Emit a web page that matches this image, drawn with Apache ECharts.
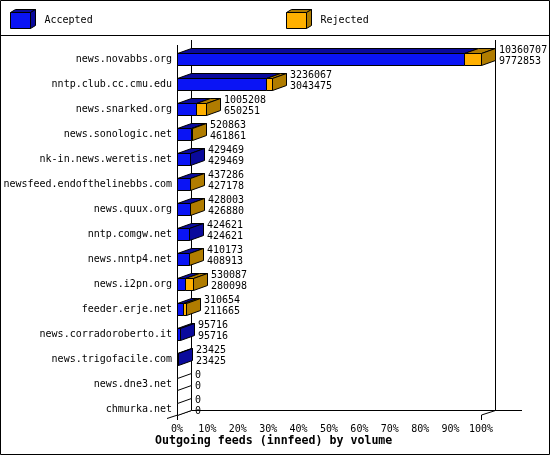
<!DOCTYPE html>
<html>
<head>
  <meta charset="utf-8">
</head>
<body style="margin: 0; background: #fff">
  <div id="container" style="width: 550px; height: 455px"></div>
  <script type="text/javascript" src="https://fastly.jsdelivr.net/npm/echarts@6.0.0/dist/echarts.min.js"></script>
  <script type="text/javascript">
    // feeds, top to bottom
    var categories = ['news.novabbs.org', 'nntp.club.cc.cmu.edu', 'news.snarked.org', 'news.sonologic.net',
      'nk-in.news.weretis.net', 'newsfeed.endofthelinebbs.com', 'news.quux.org', 'nntp.comgw.net',
      'news.nntp4.net', 'news.i2pn.org', 'feeder.erje.net', 'news.corradoroberto.it',
      'news.trigofacile.com', 'news.dne3.net', 'chmurka.net'];
    // offered volume (upper number) and accepted volume (lower number)
    var offered = [10360707, 3236067, 1005208, 520863, 429469, 437286, 428003, 424621,
      410173, 530087, 310654, 95716, 23425, 0, 0];
    var accepted = [9772853, 3043475, 650251, 461861, 429469, 427178, 426880, 424621,
      408913, 280098, 211665, 95716, 23425, 0, 0];
    var seriesNames = ['Accepted', 'Rejected'];

    var FONT = '10px "DejaVu Sans Mono"';
    var BLUE = '#0a14f5', BLUE_DK = '#0a0a9c';
    var ORANGE = '#ffb000', ORANGE_DK = '#b07c00';
    var DX = 14, DY = 5; // 3d depth

    var maxTotal = Math.max.apply(null, offered);
    var rows = offered.map(function (v, i) { return [i, v, accepted[i]]; });

    // grid geometry (front plane)
    var GL = 177, GW = 304, GT = 46.5, GH = 375;

    function poly(points, fill) {
      return { type: 'polygon', shape: { points: points }, style: { fill: fill, stroke: '#000', lineWidth: 1 } };
    }

    function renderItem(params, api) {
      var idx = api.value(0), total = api.value(1), acc = api.value(2);
      var c0 = api.coord([0, idx]);
      var x0 = Math.round(c0[0]) + 0.5;
      var yc = Math.round(c0[1]);
      var xa = Math.round(api.coord([acc / maxTotal * 100, idx])[0]) + 0.5;
      var xt = Math.round(api.coord([total / maxTotal * 100, idx])[0]) + 0.5;
      var top = yc - 5.5, bot = yc + 6.5;
      var kids = [];
      if (xa > x0) {
        kids.push(poly([[x0, top], [xa, top], [xa, bot], [x0, bot]], BLUE));
        kids.push(poly([[x0, top], [x0 + DX, top - DY], [xa + DX, top - DY], [xa, top]], BLUE_DK));
      }
      if (xt > xa) {
        kids.push(poly([[xa, top], [xt, top], [xt, bot], [xa, bot]], ORANGE));
        kids.push(poly([[xa, top], [xa + DX, top - DY], [xt + DX, top - DY], [xt, top]], ORANGE_DK));
      }
      var side = total === 0 ? '#fff' : (total > acc ? ORANGE_DK : BLUE_DK);
      kids.push(poly([[xt, top], [xt + DX, top - DY], [xt + DX, bot - DY], [xt, bot]], side));
      kids.push({
        type: 'text',
        style: {
          text: total + '\n' + acc, x: xt + DX + 3.5, y: yc - 3.5,
          verticalAlign: 'middle', align: 'left', font: FONT, lineHeight: 11, fill: '#000'
        }
      });
      return { type: 'group', children: kids };
    }

    function line(x1, y1, x2, y2) {
      return { type: 'line', shape: { x1: x1, y1: y1, x2: x2, y2: y2 }, style: { stroke: '#000', lineWidth: 1 }, silent: true };
    }

    function legendBox(x, y, front, dark, label) {
      return [
        { type: 'polygon', shape: { points: [[x, y], [x + 5, y - 3], [x + 25, y - 3], [x + 20, y]] }, style: { fill: dark, stroke: '#000' } },
        { type: 'polygon', shape: { points: [[x + 20, y], [x + 25, y - 3], [x + 25, y + 13], [x + 20, y + 16]] }, style: { fill: dark, stroke: '#000' } },
        { type: 'rect', shape: { x: x, y: y, width: 20, height: 16 }, style: { fill: front, stroke: '#000' } },
        { type: 'text', style: { text: label, x: x + 34, y: y + 7.5, verticalAlign: 'middle', font: FONT, fill: '#000' } }
      ];
    }

    var BX = GL + 0.5, BB = 410.5;
    var graphics = [
      { type: 'rect', shape: { x: 0.5, y: 0.5, width: 549, height: 454 }, style: { fill: 'none', stroke: '#000' }, silent: true },
      line(0, 35.5, 550, 35.5),
      // back walls and floor
      line(BX + DX, 40, BX + DX, BB),
      line(GL + GW + DX + 0.5, 40, GL + GW + DX + 0.5, BB),
      line(BX + DX, BB, 522, BB),
      line(BX, 45, BX, 415),
      line(167, 418.5, BX + DX, BB),
      line(GL + GW + 0.5, 415, GL + GW + DX + 0.5, BB),
      line(BX, 415, BX, 420),
      line(GL + GW + 0.5, 415, GL + GW + 0.5, 420)
    ].concat(legendBox(10.5, 12.5, BLUE, BLUE_DK, seriesNames[0]))
     .concat(legendBox(286.5, 12.5, ORANGE, ORANGE_DK, seriesNames[1]));

    var dom = document.getElementById('container');
    var myChart = echarts.init(dom, null, { renderer: 'canvas' });

    var option = {
      backgroundColor: '#fff',
      animation: false,
      title: {
        text: 'Outgoing feeds (innfeed) by volume',
        left: 155, top: 435, padding: 0,
        textStyle: { fontFamily: 'DejaVu Sans Mono', fontSize: 11.6, fontWeight: 'bold', color: '#000' }
      },
      grid: { left: GL, width: GW, top: GT, height: GH },
      xAxis: {
        type: 'value', min: 0, max: 100, interval: 10,
        axisLine: { show: false }, axisTick: { show: false }, splitLine: { show: false },
        axisLabel: { formatter: '{value}%', margin: 2.5, fontFamily: 'DejaVu Sans Mono', fontSize: 10, color: '#000' }
      },
      yAxis: {
        type: 'category', data: categories, inverse: true,
        axisLine: { show: false }, axisTick: { show: false },
        axisLabel: { margin: 5, fontFamily: 'DejaVu Sans Mono', fontSize: 10, color: '#000' }
      },
      series: [{
        type: 'custom',
        renderItem: renderItem,
        encode: { x: 1, y: 0 },
        data: rows,
        z: 3
      }],
      graphic: graphics
    };

    myChart.setOption(option);
    window.addEventListener('resize', myChart.resize);
  </script>
</body>
</html>
